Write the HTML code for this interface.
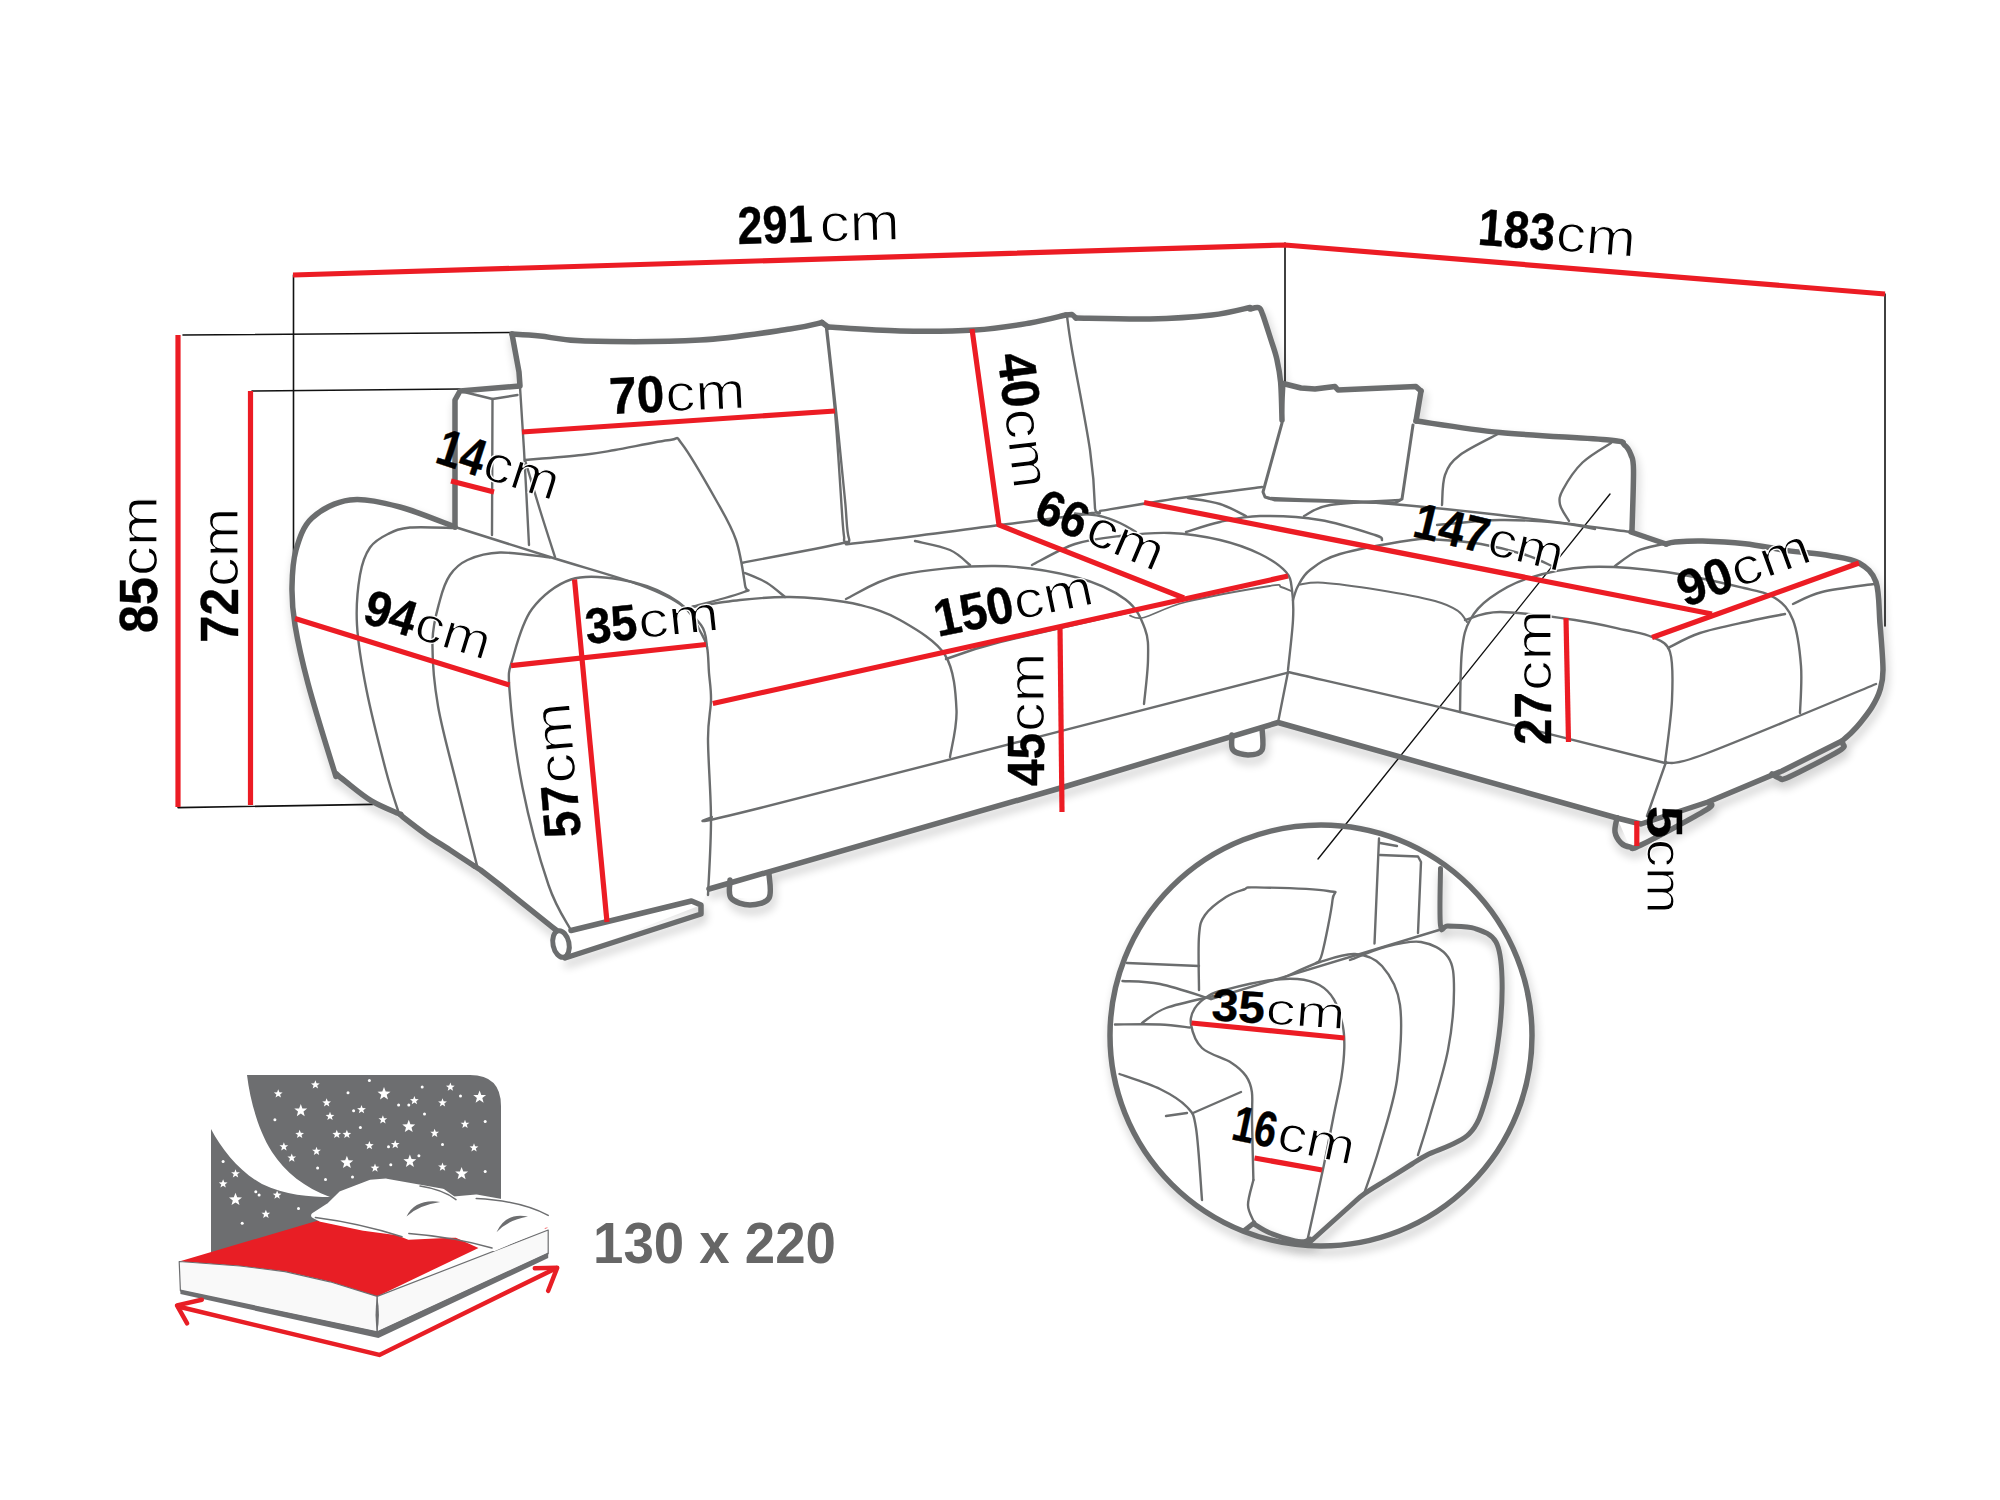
<!DOCTYPE html>
<html><head><meta charset="utf-8"><style>
html,body{margin:0;padding:0;background:#fff;width:2000px;height:1500px;overflow:hidden}
svg{display:block}
text{font-family:"Liberation Sans",sans-serif;fill:#000}
</style></head><body>
<svg width="2000" height="1500" viewBox="0 0 2000 1500" stroke-linecap="round" stroke-linejoin="round">
<defs><filter id="sh" x="-5%" y="-5%" width="110%" height="110%"><feGaussianBlur stdDeviation="5"/><feOffset dx="2" dy="6"/><feComponentTransfer><feFuncA type="linear" slope="0.22"/></feComponentTransfer></filter></defs>
<rect width="2000" height="1500" fill="#fff"/>
<g filter="url(#sh)"><path d="M556 930 L552 926.8 L520.5 901.6 L500 885 L480.6 870 L474.3 866" stroke="#000" stroke-width="6" fill="none"/><path d="M474.3 866 C470.2 863.3 458.1 855.3 450 850 C441.9 844.7 433.8 839.9 426 834.4 C418.2 828.9 407.2 820.3 403 817 C398.8 813.7 401.2 814.9 400.8 814.5" stroke="#000" stroke-width="6" fill="none"/><path d="M400.8 814.5 C395.9 812.2 380.7 806.4 371.4 800.8 C362.1 795.2 350.9 785.5 345 781 C339.1 776.5 337.9 775.5 336 773.5 C334.1 771.5 338.3 784 333.6 769 C328.9 754 314.4 707.5 308 683.5 C301.6 659.5 297.7 641.1 295 625 C292.3 608.9 291.8 599.5 292 587 C292.2 574.5 292.7 561.5 296 550 C299.3 538.5 303 526.3 312 518 C321 509.7 335.3 501.8 350 500 C364.7 498.2 382.5 502.5 400 507 C417.5 511.5 445.8 523.7 455 527" stroke="#000" stroke-width="6" fill="none"/><path d="M455 527 L455 400 L460 391 L520 386 L519 372 L512 334" stroke="#000" stroke-width="6" fill="none"/><path d="M512 334 C516.7 334.3 527.8 334.8 540 336 C552.2 337.2 558.3 340.3 585 341 C611.7 341.7 665.8 342 700 340 C734.2 338 769.7 331.9 790 329 C810.3 326.1 816.7 323.6 822 322.5" stroke="#000" stroke-width="6" fill="none"/><path d="M822 322.5 L828 327" stroke="#000" stroke-width="6" fill="none"/><path d="M828 327 C840 327.7 875.5 330.5 900 331 C924.5 331.5 953.3 331.3 975 330 C996.7 328.7 1014.8 325.5 1030 323 C1045.2 320.5 1060 316.3 1066 315" stroke="#000" stroke-width="6" fill="none"/><path d="M1066 315 L1072 314.5 L1076 318" stroke="#000" stroke-width="6" fill="none"/><path d="M1076 318 C1088.3 318.2 1127.3 319.5 1150 319 C1172.7 318.5 1195.3 316.9 1212 315 C1228.7 313.1 1243.7 308.8 1250 307.5" stroke="#000" stroke-width="6" fill="none"/><path d="M1250 309 C1251.4 308.8 1256.3 306.8 1258.4 307.6 C1260.5 308.4 1260.5 308.8 1262.5 314 C1264.5 319.2 1268.3 331.5 1270.7 339 C1273.1 346.5 1275.2 351.8 1276.8 359 C1278.4 366.2 1279.7 371.8 1280.6 382 C1281.5 392.2 1281.8 413.7 1282 420" stroke="#000" stroke-width="6" fill="none"/><path d="M1283 383.5 L1301 388 L1315 389 L1335 386.6 L1338 390 L1416 386.6 L1421 391" stroke="#000" stroke-width="6" fill="none"/><path d="M1421 391 L1416 421" stroke="#000" stroke-width="6" fill="none"/><path d="M1416 421 C1430 422.9 1467.8 429.3 1500 432.5 C1532.2 435.7 1588.3 437.9 1609 440 C1629.7 442.1 1620.7 442.5 1624.4 445 C1628.1 447.5 1629.5 450.8 1631 455 C1632.5 459.2 1633.3 457.3 1633.5 470 C1633.7 482.7 1632.2 520.8 1632 531" stroke="#000" stroke-width="6" fill="none"/><path d="M1631 532 L1666 544" stroke="#000" stroke-width="6" fill="none"/><path d="M1666 544 C1667.5 543.7 1668.9 542.5 1675 542 C1681.1 541.5 1690.8 540.7 1702.5 541 C1714.2 541.3 1730.8 542.2 1745 543.8 C1759.2 545.4 1773.3 548.6 1787.5 550.6 C1801.7 552.6 1818.1 553.6 1830 555.7 C1841.9 557.8 1851.3 558.6 1859 563 C1866.7 567.4 1872.5 571.8 1876 582 C1879.5 592.2 1878.8 609.3 1880 624 C1881.2 638.7 1883 659 1883 670 C1883 681 1881.8 683.8 1880 690 C1878.2 696.2 1875.2 701.7 1872 707 C1868.8 712.3 1864.3 717.8 1861 722 C1857.7 726.2 1855.2 728.8 1852 732 C1848.8 735.2 1843.7 739.5 1842 741" stroke="#000" stroke-width="6" fill="none"/><path d="M1842 741 L1782 771 L1708 802 L1641 824 L1617 818" stroke="#000" stroke-width="6" fill="none"/><path d="M1617 818 L1278 722.5 L1060.5 788 L709 889" stroke="#000" stroke-width="6" fill="none"/><path d="M571 930.5 L691.5 901 L701 905 L701 914 L565 958" stroke="#000" stroke-width="6" fill="none"/><path d="M730 880 C730.2 883 727.7 893.8 731 898 C734.3 902.2 743.7 905 750 905 C756.3 905 765.8 903.2 769 898 C772.2 892.8 769 878 769 874" stroke="#000" stroke-width="6" fill="none"/><path d="M1232 735 C1232.2 737.5 1230.3 746.7 1233 750 C1235.7 753.3 1243.2 755 1248 755 C1252.8 755 1259.7 754.5 1262 750 C1264.3 745.5 1262 731.7 1262 728" stroke="#000" stroke-width="6" fill="none"/><path d="M1617 818 C1616.7 820.3 1614.3 827.8 1615 832 C1615.7 836.2 1618.5 840.5 1621 843 C1623.5 845.5 1626.7 846.7 1630 847 C1633.3 847.3 1628.3 851.2 1641 845 C1653.7 838.8 1694.7 817 1706 810 C1717.3 803 1708.5 804.2 1709 803" stroke="#000" stroke-width="6" fill="none"/><path d="M1772 774 C1773.2 774.7 1776.2 777.5 1779 778 C1781.8 778.5 1779 781.5 1789 777 C1799 772.5 1830 756.5 1839 751 C1848 745.5 1842.3 745.2 1843 744" stroke="#000" stroke-width="6" fill="none"/><ellipse cx="1321" cy="1035.5" rx="211" ry="210.5" stroke="#000" stroke-width="6" fill="none"/></g><path d="M512 334 L540 336 L585 341 L700 340 L790 329 L822 322.5 L828 327 L900 331 L975 330 L1030 323 L1066 315 L1072 314.5 L1076 318 L1150 319 L1212 315 L1250 307.5 L1258.4 307.6 L1262.5 314 L1270.7 339 L1276.8 359 L1280.6 382 L1283 383.5 L1301 388 L1315 389 L1335 386.6 L1338 390 L1416 386.6 L1421 391 L1416 421 L1500 432.5 L1609 440 L1624.4 445 L1631 455 L1633.5 470 L1632 531 L1666 544 L1702.5 541 L1745 543.8 L1787.5 550.6 L1830 555.7 L1859 563 L1876 582 L1880 624 L1883 670 L1880 690 L1872 707 L1861 722 L1842 741 L1782 771 L1708 802 L1641 824 L1630 847 L1617 818 L1278 722.5 L1262 728 L1262 750 L1232 750 L1232 735 L1060.5 788 L769 874 L769 898 L730 898 L730 880 L709 889 L701 905 L565 958 L552 926.8 L520.5 901.6 L474.3 866 L426 834.4 L400.8 814.5 L371.4 800.8 L345 781 L333.6 769 L308 683.5 L295 625 L292 587 L296 550 L312 518 L350 500 L400 507 L455 527 L455 400 L460 391 L520 386 L519 372 Z" fill="#fff"/><ellipse cx="1321" cy="1035.5" rx="211" ry="210.5" fill="#fff"/><g filter="url(#sh)"><path d="M1440.5 868.5 C1440.5 878 1439.2 915.9 1440.5 925.5 C1441.8 935.1 1442.2 925.5 1448 926 C1453.8 926.5 1467 925.8 1475 928.5 C1483 931.2 1491.5 933.8 1496 942 C1500.5 950.2 1501.5 962.5 1502 978 C1502.5 993.5 1501.5 1015.5 1499 1035 C1496.5 1054.5 1492 1078.5 1487 1095 C1482 1111.5 1479 1124 1469 1134 C1459 1144 1436.5 1150 1427 1155 C1417.5 1160 1418.5 1160 1412 1164 C1405.5 1168 1396 1174 1388 1179 C1380 1184 1370.3 1189.5 1364 1194 C1357.7 1198.5 1359 1198 1350 1206 C1341 1214 1316.7 1236 1310 1242" stroke="#000" stroke-width="6" fill="none"/><path d="M1254 1224 C1256.7 1225.5 1263.2 1230.2 1270 1233 C1276.8 1235.8 1289.2 1239.6 1295 1241 C1300.8 1242.4 1302.5 1241.8 1305 1241.5 C1307.5 1241.2 1309.2 1239.4 1310 1239" stroke="#000" stroke-width="6" fill="none"/><path d="M1254 1223 L1245 1230" stroke="#000" stroke-width="6" fill="none"/></g>
<path d="M293.5 275 L293.5 556" stroke="#111" stroke-width="1.6" fill="none" />
<path d="M183 335 L512 332.5" stroke="#111" stroke-width="1.6" fill="none" />
<path d="M252 391 L460 389" stroke="#111" stroke-width="1.6" fill="none" />
<path d="M178 807.6 L373 804.4" stroke="#111" stroke-width="1.6" fill="none" />
<path d="M1285 243 L1285 383" stroke="#111" stroke-width="1.6" fill="none" />
<path d="M1885 294 L1885 626" stroke="#111" stroke-width="1.6" fill="none" />
<path d="M1610 494 L1318 859" stroke="#111" stroke-width="1.4" fill="none" />
<path d="M556 930 L552 926.8 L520.5 901.6 L500 885 L480.6 870 L474.3 866" stroke="#6b6d6e" stroke-width="5.5" fill="none" />
<path d="M474.3 866 C470.2 863.3 458.1 855.3 450 850 C441.9 844.7 433.8 839.9 426 834.4 C418.2 828.9 407.2 820.3 403 817 C398.8 813.7 401.2 814.9 400.8 814.5" stroke="#6b6d6e" stroke-width="5.5" fill="none" />
<path d="M400.8 814.5 C395.9 812.2 380.7 806.4 371.4 800.8 C362.1 795.2 350.9 785.5 345 781 C339.1 776.5 337.9 775.5 336 773.5 C334.1 771.5 338.3 784 333.6 769 C328.9 754 314.4 707.5 308 683.5 C301.6 659.5 297.7 641.1 295 625 C292.3 608.9 291.8 599.5 292 587 C292.2 574.5 292.7 561.5 296 550 C299.3 538.5 303 526.3 312 518 C321 509.7 335.3 501.8 350 500 C364.7 498.2 382.5 502.5 400 507 C417.5 511.5 445.8 523.7 455 527" stroke="#6b6d6e" stroke-width="5.5" fill="none" />
<path d="M455 527 L455 400 L460 391 L520 386 L519 372 L512 334" stroke="#6b6d6e" stroke-width="5.5" fill="none" />
<path d="M512 334 C516.7 334.3 527.8 334.8 540 336 C552.2 337.2 558.3 340.3 585 341 C611.7 341.7 665.8 342 700 340 C734.2 338 769.7 331.9 790 329 C810.3 326.1 816.7 323.6 822 322.5" stroke="#6b6d6e" stroke-width="5.5" fill="none" />
<path d="M822 322.5 L828 327" stroke="#6b6d6e" stroke-width="5.5" fill="none" />
<path d="M828 327 C840 327.7 875.5 330.5 900 331 C924.5 331.5 953.3 331.3 975 330 C996.7 328.7 1014.8 325.5 1030 323 C1045.2 320.5 1060 316.3 1066 315" stroke="#6b6d6e" stroke-width="5.5" fill="none" />
<path d="M1066 315 L1072 314.5 L1076 318" stroke="#6b6d6e" stroke-width="5.5" fill="none" />
<path d="M1076 318 C1088.3 318.2 1127.3 319.5 1150 319 C1172.7 318.5 1195.3 316.9 1212 315 C1228.7 313.1 1243.7 308.8 1250 307.5" stroke="#6b6d6e" stroke-width="5.5" fill="none" />
<path d="M1250 309 C1251.4 308.8 1256.3 306.8 1258.4 307.6 C1260.5 308.4 1260.5 308.8 1262.5 314 C1264.5 319.2 1268.3 331.5 1270.7 339 C1273.1 346.5 1275.2 351.8 1276.8 359 C1278.4 366.2 1279.7 371.8 1280.6 382 C1281.5 392.2 1281.8 413.7 1282 420" stroke="#6b6d6e" stroke-width="5.5" fill="none" />
<path d="M1283 383.5 L1301 388 L1315 389 L1335 386.6 L1338 390 L1416 386.6 L1421 391" stroke="#6b6d6e" stroke-width="5.5" fill="none" />
<path d="M1421 391 L1416 421" stroke="#6b6d6e" stroke-width="5.5" fill="none" />
<path d="M1416 421 C1430 422.9 1467.8 429.3 1500 432.5 C1532.2 435.7 1588.3 437.9 1609 440 C1629.7 442.1 1620.7 442.5 1624.4 445 C1628.1 447.5 1629.5 450.8 1631 455 C1632.5 459.2 1633.3 457.3 1633.5 470 C1633.7 482.7 1632.2 520.8 1632 531" stroke="#6b6d6e" stroke-width="5.5" fill="none" />
<path d="M1631 532 L1666 544" stroke="#6b6d6e" stroke-width="5.5" fill="none" />
<path d="M1666 544 C1667.5 543.7 1668.9 542.5 1675 542 C1681.1 541.5 1690.8 540.7 1702.5 541 C1714.2 541.3 1730.8 542.2 1745 543.8 C1759.2 545.4 1773.3 548.6 1787.5 550.6 C1801.7 552.6 1818.1 553.6 1830 555.7 C1841.9 557.8 1851.3 558.6 1859 563 C1866.7 567.4 1872.5 571.8 1876 582 C1879.5 592.2 1878.8 609.3 1880 624 C1881.2 638.7 1883 659 1883 670 C1883 681 1881.8 683.8 1880 690 C1878.2 696.2 1875.2 701.7 1872 707 C1868.8 712.3 1864.3 717.8 1861 722 C1857.7 726.2 1855.2 728.8 1852 732 C1848.8 735.2 1843.7 739.5 1842 741" stroke="#6b6d6e" stroke-width="5.5" fill="none" />
<path d="M1842 741 L1782 771 L1708 802 L1641 824 L1617 818" stroke="#6b6d6e" stroke-width="5.5" fill="none" />
<path d="M1617 818 L1278 722.5 L1060.5 788 L709 889" stroke="#6b6d6e" stroke-width="5.5" fill="none" />
<path d="M571 930.5 L691.5 901 L701 905 L701 914 L565 958" stroke="#6b6d6e" stroke-width="5.5" fill="none" />
<ellipse cx="561" cy="944" rx="8" ry="13.5" transform="rotate(-12 561 944)" stroke="#6b6d6e" stroke-width="5" fill="#fff"/>
<path d="M730 880 C730.2 883 727.7 893.8 731 898 C734.3 902.2 743.7 905 750 905 C756.3 905 765.8 903.2 769 898 C772.2 892.8 769 878 769 874" stroke="#6b6d6e" stroke-width="5.5" fill="none" />
<path d="M1232 735 C1232.2 737.5 1230.3 746.7 1233 750 C1235.7 753.3 1243.2 755 1248 755 C1252.8 755 1259.7 754.5 1262 750 C1264.3 745.5 1262 731.7 1262 728" stroke="#6b6d6e" stroke-width="5.5" fill="none" />
<path d="M1617 818 C1616.7 820.3 1614.3 827.8 1615 832 C1615.7 836.2 1618.5 840.5 1621 843 C1623.5 845.5 1626.7 846.7 1630 847 C1633.3 847.3 1628.3 851.2 1641 845 C1653.7 838.8 1694.7 817 1706 810 C1717.3 803 1708.5 804.2 1709 803" stroke="#6b6d6e" stroke-width="5.5" fill="none" />
<path d="M1772 774 C1773.2 774.7 1776.2 777.5 1779 778 C1781.8 778.5 1779 781.5 1789 777 C1799 772.5 1830 756.5 1839 751 C1848 745.5 1842.3 745.2 1843 744" stroke="#6b6d6e" stroke-width="5.5" fill="none" />
<ellipse cx="1321" cy="1035.5" rx="211" ry="210.5" stroke="#6b6d6e" stroke-width="5.5" fill="none"/>
<path d="M460 391 L492.5 399 L517.5 395" stroke="#6b6d6e" stroke-width="2.4" fill="none" />
<path d="M492.5 399 L492 535" stroke="#6b6d6e" stroke-width="2.4" fill="none" />
<path d="M520 387 C520.7 397.5 522.5 423.7 524 450 C525.5 476.3 528.2 529.2 529 545" stroke="#6b6d6e" stroke-width="2.4" fill="none" />
<path d="M525 460 C534.5 459.2 567 456.7 582 455 C597 453.3 600.3 452.5 615 450 C629.7 447.5 658.8 441 670 440 C681.2 439 674.3 434 682 444 C689.7 454 707 484 716 500 C725 516 731.2 525.8 736 540 C740.8 554.2 743.7 576.3 745 585 C746.3 593.7 752.8 588.3 744 592 C735.2 595.7 700.7 604.5 692 607" stroke="#6b6d6e" stroke-width="2.4" fill="none" />
<path d="M525 460 C527.5 468.3 535 493.8 540 510 C545 526.2 552.5 549.2 555 557" stroke="#6b6d6e" stroke-width="2.4" fill="none" />
<path d="M455 527 C470.8 532 519.2 547.3 550 557 C580.8 566.7 617.7 576.7 640 585 C662.3 593.3 674 599.3 684 607 C694 614.7 696.2 624.3 700 631 C703.8 637.7 705.5 640 707 647 C708.5 654 708.3 664.2 709 673 C709.7 681.8 711.2 689 711 700 C710.8 711 708 719 708 739 C708 759 711 794 711 820 C711 846 708.5 882.5 708 895" stroke="#6b6d6e" stroke-width="2.4" fill="none" />
<path d="M455 528 C447.5 527.9 421.2 526.5 410 527.5 C398.8 528.5 394.7 530.7 388 534 C381.3 537.3 374.7 540.7 370 547.5 C365.3 554.3 362.2 562.1 360 575 C357.8 587.9 355.9 605.8 357 625 C358.1 644.2 361.7 665.7 366.5 690 C371.3 714.3 380.6 750.4 386 771 C391.4 791.6 396.8 806.4 399 813.5" stroke="#6b6d6e" stroke-width="2.4" fill="none" />
<path d="M550 557.5 C541.7 556.7 513.8 552.1 500 552.5 C486.2 552.9 475.8 556.2 467.5 560 C459.2 563.8 454.6 568.3 450 575 C445.4 581.7 442.9 589 440 600 C437.1 611 432.8 623.3 432.5 641 C432.2 658.7 433.8 681.6 438 706 C442.2 730.4 451 760.9 457.5 787.5 C464 814.1 473.8 852.5 477 865.5" stroke="#6b6d6e" stroke-width="2.4" fill="none" />
<path d="M571 930.5 C567.2 922.9 556.6 908.8 548.5 885 C540.4 861.2 529 820 522.5 787.5 C516 755 511.1 711.7 509.5 690 C507.9 668.3 509.2 671 513 657.5 C516.8 644 522.3 622 532 609 C541.7 596 556.3 584.4 571 579.5 C585.7 574.6 603.7 576.8 620 579.5 C636.3 582.2 655.5 588.4 669 596 C682.5 603.6 694.7 616.5 701 625 C707.3 633.5 706 643.3 707 647" stroke="#6b6d6e" stroke-width="2.4" fill="none" />
<path d="M826 327 C827.5 341.2 832.2 379.8 835 412 C837.8 444.2 841 498.7 842.5 520 C844 541.3 844.6 536 844 540 C843.4 544 855.6 540.2 838.7 544 C821.8 547.8 758.7 559.6 742.7 562.7" stroke="#6b6d6e" stroke-width="2.4" fill="none" />
<path d="M827 328 C828.7 343.3 834 391.3 837 420 C840 448.7 843 480.2 845 500 C847 519.8 846.5 531.6 849 538.7 C851.5 545.8 834.8 545 860 542.7 C885.2 540.4 961.3 530 1000 525 C1038.7 520 1076.2 515.8 1092 513 C1107.8 510.2 1095.3 518.5 1095 508 C1094.7 497.5 1093.8 476.3 1090 450 C1086.2 423.7 1075.8 372.3 1072 350 C1068.2 327.7 1067.8 321.7 1067 316" stroke="#6b6d6e" stroke-width="2.4" fill="none" />
<path d="M1100 511 C1113.3 508.8 1153 502 1180 498 C1207 494 1248.3 488.8 1262 487" stroke="#6b6d6e" stroke-width="2.4" fill="none" />
<path d="M692 607 C700 605.8 724.2 601.7 740 600 C755.8 598.3 773.4 597.2 786.7 597 C800 596.8 807.8 597.4 820 598.7 C832.2 600 846.7 601.5 860 605 C873.3 608.5 885.8 611.7 900 620 C914.2 628.3 935.6 640 945 655 C954.4 670 955.7 693 956.5 710 C957.3 727 951.1 749.2 950 757" stroke="#6b6d6e" stroke-width="2.4" fill="none" />
<path d="M745 573 C748.6 574.6 760 578.7 766.7 582.7 C773.4 586.7 782 594.6 785 597" stroke="#6b6d6e" stroke-width="2.4" fill="none" />
<path d="M846 599 C855 595 875.2 580.5 900 575 C924.8 569.5 965.8 565.7 995 566 C1024.2 566.3 1053.2 571.4 1075 577 C1096.8 582.6 1113.8 590.8 1125.5 599.5 C1137.2 608.2 1141.2 618.9 1145 629 C1148.8 639.1 1148.2 647.5 1148 660 C1147.8 672.5 1144.7 696.7 1144 704" stroke="#6b6d6e" stroke-width="2.4" fill="none" />
<path d="M915 541 C920.8 542.5 940.8 546 950 550 C959.2 554 966.7 562.5 970 565" stroke="#6b6d6e" stroke-width="2.4" fill="none" />
<path d="M1032 565 C1039.2 561.5 1060.3 548.8 1075 544 C1089.7 539.2 1104.2 537.8 1120 536 C1135.8 534.2 1153.3 532.3 1170 533 C1186.7 533.7 1205 536.5 1220 540 C1235 543.5 1249 548.7 1260 554 C1271 559.3 1280.7 566 1286 572 C1291.3 578 1290.8 582 1292 590 C1293.2 598 1293.7 606.7 1293 620 C1292.3 633.3 1288.8 661.7 1288 670" stroke="#6b6d6e" stroke-width="2.4" fill="none" />
<path d="M1188 498 C1193.3 499 1210.3 501 1220 504 C1229.7 507 1241.7 514 1246 516" stroke="#6b6d6e" stroke-width="2.4" fill="none" />
<path d="M1075 513.5 C1079.2 513.9 1092.5 514.4 1100 516 C1107.5 517.6 1114 520.3 1120 523 C1126 525.7 1133.3 530.5 1136 532" stroke="#6b6d6e" stroke-width="2.4" fill="none" />
<path d="M946 659 L975 649 L1000 642 L1130 612" stroke="#6b6d6e" stroke-width="2.4" fill="none" />
<path d="M1130 615.7 C1132.3 616 1134.7 619.8 1144 617.5 C1153.3 615.2 1165.1 607.2 1186 602 C1206.9 596.8 1253.8 588.5 1269.6 586 C1285.4 583.5 1277.5 586.2 1281 587 C1284.5 587.8 1289 590.2 1290.6 590.8" stroke="#6b6d6e" stroke-width="1.8" fill="none" />
<path d="M711 817 C719.2 815.5 663.8 832.1 760 808 C856.2 783.9 1200 695.2 1288 672.6" stroke="#6b6d6e" stroke-width="2.4" fill="none" />
<path d="M1288 672 L1278 722.5" stroke="#6b6d6e" stroke-width="2.4" fill="none" />
<path d="M1288 672 C1316.7 678.7 1397.2 696.8 1460 712 C1522.8 727.2 1630.8 754.5 1665 763" stroke="#6b6d6e" stroke-width="2.5" fill="none" />
<path d="M1284 386 L1282 423 L1263 492 L1265 497 L1275 500 L1395 503 L1402 499 L1413 425" stroke="#6b6d6e" stroke-width="3" fill="none" />
<path d="M1268 498 C1276.7 498.3 1301.3 499.2 1320 500 C1338.7 500.8 1350 500.5 1380 503 C1410 505.5 1458.2 510.2 1500 515 C1541.8 519.8 1609.2 529.2 1631 532" stroke="#6b6d6e" stroke-width="2.4" fill="none" />
<path d="M1500 433 C1493.3 436.7 1469.2 448 1460 455 C1450.8 462 1448 466.7 1445 475 C1442 483.3 1442.5 500 1442 505" stroke="#6b6d6e" stroke-width="2.4" fill="none" />
<path d="M1611 443 C1606.2 446.2 1590.5 454.8 1582.5 462.5 C1574.5 470.2 1566.8 482.5 1563 489.5 C1559.2 496.5 1559 499.2 1560 504.5 C1561 509.8 1567.5 518.2 1569 521" stroke="#6b6d6e" stroke-width="2.4" fill="none" />
<path d="M1186 532 C1191.7 530.3 1207.7 524.7 1220 522 C1232.3 519.3 1243.3 516.3 1260 516 C1276.7 515.7 1300.8 516.8 1320 520 C1339.2 523.2 1364.7 531.7 1375 535 C1385.3 538.3 1380.8 539.2 1382 540" stroke="#6b6d6e" stroke-width="2.4" fill="none" />
<path d="M1304 516 C1308.3 514.2 1314 507.7 1330 505 C1346 502.3 1388.3 500.8 1400 500" stroke="#6b6d6e" stroke-width="2.4" fill="none" />
<path d="M1293 600 C1293.8 597.7 1295.2 591 1298 586 C1300.8 581 1303 575.3 1310 570 C1317 564.7 1323 559 1340 554 C1357 549 1396 542.4 1412 540 C1428 537.6 1424.5 538.8 1436 539.5 C1447.5 540.2 1466 541.4 1481 544 C1496 546.6 1514 551.2 1526 555 C1538 558.8 1548.5 564.6 1553 566.5" stroke="#6b6d6e" stroke-width="2.4" fill="none" />
<path d="M1299 584.5 C1303 584.2 1309.7 581.8 1323 582.7 C1336.3 583.6 1360.3 587 1379 590 C1397.7 593 1421.8 597.5 1435 601 C1448.2 604.5 1452.7 607.5 1458 611 C1463.3 614.5 1465.5 620.2 1467 622" stroke="#6b6d6e" stroke-width="2" fill="none" />
<path d="M1460 712 C1460.3 701.7 1460.3 665.3 1462 650 C1463.7 634.7 1465.3 628.7 1470 620 C1474.7 611.3 1480.5 604.9 1490 598 C1499.5 591.1 1510.7 583.8 1527 578.6 C1543.3 573.4 1564.8 568.1 1588 567 C1611.2 565.9 1640 568.5 1666 572 C1692 575.5 1725.8 583.7 1744 588 C1762.2 592.3 1766.8 592.7 1775 598 C1783.2 603.3 1788.7 608.7 1793 620 C1797.3 631.3 1799.8 650.5 1801 666 C1802.2 681.5 1800.2 705.2 1800 713" stroke="#6b6d6e" stroke-width="2.4" fill="none" />
<path d="M1437 525 C1447.5 524.2 1479.5 520.3 1500 520 C1520.5 519.7 1544.2 521.5 1560 523 C1575.8 524.5 1589.2 528 1595 529" stroke="#6b6d6e" stroke-width="2.4" fill="none" />
<path d="M1615 566 C1618.7 563.5 1629 554.7 1637 551 C1645 547.3 1658.7 545.2 1663 544" stroke="#6b6d6e" stroke-width="2.4" fill="none" />
<path d="M1465 620 C1470.8 618.7 1481.7 612 1500 612 C1518.3 612 1554.2 617 1575 620 C1595.8 623 1612.2 627.2 1625 630 C1637.8 632.8 1644.5 633.3 1652 637 C1659.5 640.7 1666.7 641.5 1670 652 C1673.3 662.5 1672.8 681.5 1672 700 C1671.2 718.5 1666.2 752.5 1665 763" stroke="#6b6d6e" stroke-width="2.4" fill="none" />
<path d="M1666 762 L1647 816" stroke="#6b6d6e" stroke-width="2.4" fill="none" />
<path d="M1665 763 C1671.7 761.5 1669.8 767.2 1705 754 C1740.2 740.8 1847.5 695.7 1876 684" stroke="#6b6d6e" stroke-width="2.4" fill="none" />
<path d="M1668 648 C1673.3 645.5 1686.3 637.5 1700 633 C1713.7 628.5 1735.8 624.2 1750 621 C1764.2 617.8 1779.2 615.2 1785 614" stroke="#6b6d6e" stroke-width="2.4" fill="none" />
<path d="M1793 604 C1797.8 602 1808.5 595.3 1822 592 C1835.5 588.7 1865.3 585.3 1874 584" stroke="#6b6d6e" stroke-width="2.4" fill="none" />
<path d="M1379 838.5 L1374.5 943.5" stroke="#6b6d6e" stroke-width="2.4" fill="none" />
<path d="M1380 843 L1397 846" stroke="#6b6d6e" stroke-width="2.4" fill="none" />
<path d="M1380 855 L1418 856.5 L1421 862 L1418 933" stroke="#6b6d6e" stroke-width="2.4" fill="none" />
<path d="M1440.5 868.5 C1440.5 878 1439.2 915.9 1440.5 925.5 C1441.8 935.1 1442.2 925.5 1448 926 C1453.8 926.5 1467 925.8 1475 928.5 C1483 931.2 1491.5 933.8 1496 942 C1500.5 950.2 1501.5 962.5 1502 978 C1502.5 993.5 1501.5 1015.5 1499 1035 C1496.5 1054.5 1492 1078.5 1487 1095 C1482 1111.5 1479 1124 1469 1134 C1459 1144 1436.5 1150 1427 1155 C1417.5 1160 1418.5 1160 1412 1164 C1405.5 1168 1396 1174 1388 1179 C1380 1184 1370.3 1189.5 1364 1194 C1357.7 1198.5 1359 1198 1350 1206 C1341 1214 1316.7 1236 1310 1242" stroke="#6b6d6e" stroke-width="5" fill="none" />
<path d="M1211 999 L1439 930" stroke="#6b6d6e" stroke-width="2.4" fill="none" />
<path d="M1199 990 C1199 981 1198 948.5 1199 936 C1200 923.5 1200.5 921.5 1205 915 C1209.5 908.5 1219.5 901.2 1226 897 C1232.5 892.8 1239 891.1 1244 889.5 C1249 887.9 1242 887.1 1256 887.4 C1270 887.6 1315.2 888.9 1328 891 C1340.8 893.1 1333.5 889.5 1332.5 900 C1331.5 910.5 1324.8 943.5 1322 954 C1319.2 964.5 1317 961.5 1316 963" stroke="#6b6d6e" stroke-width="2.4" fill="none" />
<path d="M1253.4 1180 C1253.2 1170 1252.2 1134.7 1252 1120 C1251.8 1105.3 1252.9 1099.3 1251.9 1092 C1250.9 1084.7 1249.4 1080.9 1246 1076 C1242.6 1071.1 1238.6 1067.4 1231.3 1062.7 C1224 1058 1208.7 1054.4 1202 1048 C1195.3 1041.6 1192.2 1031.1 1191 1024.5 C1189.8 1017.9 1191.7 1013.3 1194.7 1008.4 C1197.8 1003.5 1203.9 998.4 1209.3 995.2 C1214.7 992 1217.2 991.8 1227 989.3 C1236.8 986.8 1256.3 982.2 1268 980.5 C1279.7 978.8 1288.8 978.2 1297.4 979 C1306 979.8 1313.3 981.6 1319.4 985 C1325.5 988.4 1330.1 992.8 1334 999.6 C1337.9 1006.4 1341.1 1017.9 1342.8 1026 C1344.5 1034.1 1344.5 1039.4 1344.3 1048 C1344.1 1056.6 1343.1 1066.4 1341.4 1077.4 C1339.7 1088.4 1336.9 1099.3 1334 1114 C1331.1 1128.7 1328.3 1144.1 1323.8 1165.4 C1319.3 1186.7 1309.8 1229.2 1307 1242" stroke="#6b6d6e" stroke-width="2.4" fill="none" />
<path d="M1285 977 C1290.8 974.5 1308.3 965.8 1320 962 C1331.7 958.2 1344.7 953.3 1355 954 C1365.3 954.7 1374.5 957.5 1382 966 C1389.5 974.5 1397.5 986 1400 1005 C1402.5 1024 1400.5 1056 1397 1080 C1393.5 1104 1384.5 1130 1379 1149 C1373.5 1168 1366.5 1186.5 1364 1194" stroke="#6b6d6e" stroke-width="2.4" fill="none" />
<path d="M1350 960 C1355.8 957.8 1373.2 950 1385 947 C1396.8 944 1410.5 940.3 1421 942 C1431.5 943.7 1442.5 949 1448 957 C1453.5 965 1454 974.5 1454 990 C1454 1005.5 1452 1029 1448 1050 C1444 1071 1435 1098.5 1430 1116 C1425 1133.5 1420 1148.5 1418 1155" stroke="#6b6d6e" stroke-width="2.4" fill="none" />
<path d="M1253.4 1180 C1252.5 1184.2 1247.9 1198 1248 1205 C1248.1 1212 1253 1219.2 1254 1222" stroke="#6b6d6e" stroke-width="2.4" fill="none" />
<path d="M1254 1224 C1256.7 1225.5 1263.2 1230.2 1270 1233 C1276.8 1235.8 1289.2 1239.6 1295 1241 C1300.8 1242.4 1302.5 1241.8 1305 1241.5 C1307.5 1241.2 1309.2 1239.4 1310 1239" stroke="#6b6d6e" stroke-width="5" fill="none" />
<path d="M1254 1223 L1245 1230" stroke="#6b6d6e" stroke-width="5" fill="none" />
<path d="M1127 963 L1199 966" stroke="#6b6d6e" stroke-width="2.4" fill="none" />
<path d="M1122.5 981 C1128.8 981.5 1145.2 981 1160 984 C1174.8 987 1202.5 996.5 1211 999" stroke="#6b6d6e" stroke-width="2.4" fill="none" />
<path d="M1142 1023 C1146 1020.5 1154 1012.5 1166 1008 C1178 1003.5 1206 998 1214 996" stroke="#6b6d6e" stroke-width="2.4" fill="none" />
<path d="M1115 1024.5 C1122.5 1024.5 1147.5 1024 1160 1024.5 C1172.5 1025 1185 1027 1190 1027.5" stroke="#6b6d6e" stroke-width="2.4" fill="none" />
<path d="M1119.5 1074 C1126.2 1076.5 1148.8 1083.5 1160 1089 C1171.2 1094.5 1181 1100.5 1187 1107 C1193 1113.5 1193.5 1112.5 1196 1128 C1198.5 1143.5 1201 1188 1202 1200" stroke="#6b6d6e" stroke-width="2.4" fill="none" />
<path d="M1166 1116 L1187 1113" stroke="#6b6d6e" stroke-width="2.4" fill="none" />
<path d="M1193 1113 L1241 1092" stroke="#6b6d6e" stroke-width="2.4" fill="none" />
<path d="M293 275 L1285 245 L1885 294" stroke="#ec1c24" stroke-width="5.2" fill="none" stroke-linecap="butt" stroke-linejoin="miter"/>
<path d="M178 335 L178 807" stroke="#ec1c24" stroke-width="5.2" fill="none" stroke-linecap="butt" stroke-linejoin="miter"/>
<path d="M250.5 391 L250.5 805" stroke="#ec1c24" stroke-width="5.2" fill="none" stroke-linecap="butt" stroke-linejoin="miter"/>
<path d="M522 432 L835 411" stroke="#ec1c24" stroke-width="5.2" fill="none" stroke-linecap="butt" stroke-linejoin="miter"/>
<path d="M451 481 L494 492" stroke="#ec1c24" stroke-width="5.2" fill="none" stroke-linecap="butt" stroke-linejoin="miter"/>
<path d="M972 329 L999 525 L1184 598" stroke="#ec1c24" stroke-width="5.2" fill="none" stroke-linecap="butt" stroke-linejoin="miter"/>
<path d="M295 618.5 L509.5 685" stroke="#ec1c24" stroke-width="5.2" fill="none" stroke-linecap="butt" stroke-linejoin="miter"/>
<path d="M511 665.6 L706 644.5" stroke="#ec1c24" stroke-width="5.2" fill="none" stroke-linecap="butt" stroke-linejoin="miter"/>
<path d="M574.5 579.5 L607 922" stroke="#ec1c24" stroke-width="5.2" fill="none" stroke-linecap="butt" stroke-linejoin="miter"/>
<path d="M712.8 703.5 L1288 576" stroke="#ec1c24" stroke-width="5.2" fill="none" stroke-linecap="butt" stroke-linejoin="miter"/>
<path d="M1060 627 L1062 812" stroke="#ec1c24" stroke-width="5.2" fill="none" stroke-linecap="butt" stroke-linejoin="miter"/>
<path d="M1144 502.5 L1712 614" stroke="#ec1c24" stroke-width="5.2" fill="none" stroke-linecap="butt" stroke-linejoin="miter"/>
<path d="M1652 637.5 L1859 563" stroke="#ec1c24" stroke-width="5.2" fill="none" stroke-linecap="butt" stroke-linejoin="miter"/>
<path d="M1566 618 L1568.5 742" stroke="#ec1c24" stroke-width="5.2" fill="none" stroke-linecap="butt" stroke-linejoin="miter"/>
<path d="M1636.8 821 L1636.8 846" stroke="#ec1c24" stroke-width="5.2" fill="none" stroke-linecap="butt" stroke-linejoin="miter"/>
<path d="M1191.5 1023 L1344.5 1038" stroke="#ec1c24" stroke-width="5.2" fill="none" stroke-linecap="butt" stroke-linejoin="miter"/>
<path d="M1254.5 1158 L1322 1170" stroke="#ec1c24" stroke-width="5.2" fill="none" stroke-linecap="butt" stroke-linejoin="miter"/>
<path d="M247 1075 L470 1075 Q501 1075 501 1106 L501 1245 L211 1252 L211 1129 C222 1150 240 1172 262 1184 C285 1195 310 1197 330 1197 C305 1188 285 1172 272 1152 C258 1130 250 1100 247 1075 Z" fill="#6d6e70"/>
<polygon points="300.8,1104 302.4,1108.4 307.2,1108.6 303.5,1111.6 304.7,1116.3 300.8,1113.6 296.8,1116.3 298,1111.6 294.3,1108.6 299.1,1108.4" fill="#fff"/>
<polygon points="384,1087.1 385.7,1091.6 390.5,1091.8 386.7,1094.8 388,1099.4 384,1096.7 380,1099.4 381.3,1094.8 377.5,1091.8 382.3,1091.6" fill="#fff"/>
<polygon points="479.6,1090.5 481.3,1094.9 486.1,1095.1 482.3,1098.1 483.6,1102.8 479.6,1100.1 475.6,1102.8 476.9,1098.1 473.2,1095.1 477.9,1094.9" fill="#fff"/>
<polygon points="408.8,1119.7 410.4,1124.2 415.2,1124.4 411.5,1127.4 412.7,1132 408.8,1129.4 404.8,1132 406,1127.4 402.3,1124.4 407.1,1124.2" fill="#fff"/>
<polygon points="346.9,1155.7 348.6,1160.2 353.3,1160.4 349.6,1163.4 350.9,1168 346.9,1165.4 342.9,1168 344.2,1163.4 340.4,1160.4 345.2,1160.2" fill="#fff"/>
<polygon points="409.9,1154.6 411.6,1159.1 416.3,1159.3 412.6,1162.3 413.9,1166.9 409.9,1164.2 405.9,1166.9 407.2,1162.3 403.4,1159.3 408.2,1159.1" fill="#fff"/>
<polygon points="461.6,1167 463.3,1171.4 468.1,1171.6 464.3,1174.6 465.6,1179.3 461.6,1176.6 457.6,1179.3 458.9,1174.6 455.2,1171.6 459.9,1171.4" fill="#fff"/>
<polygon points="235.5,1192.8 237.2,1197.3 242,1197.5 238.2,1200.5 239.5,1205.1 235.5,1202.5 231.5,1205.1 232.8,1200.5 229,1197.5 233.8,1197.3" fill="#fff"/>
<polygon points="315.4,1080.3 316.5,1083.3 319.7,1083.5 317.2,1085.5 318.1,1088.6 315.4,1086.8 312.7,1088.6 313.5,1085.5 311,1083.5 314.2,1083.3" fill="#fff"/>
<polygon points="278.2,1089.3 279.4,1092.3 282.6,1092.5 280.1,1094.5 281,1097.6 278.2,1095.8 275.5,1097.6 276.4,1094.5 273.9,1092.5 277.1,1092.3" fill="#fff"/>
<polygon points="450.4,1082.5 451.5,1085.6 454.7,1085.7 452.2,1087.7 453.1,1090.8 450.4,1089.1 447.7,1090.8 448.5,1087.7 446,1085.7 449.2,1085.6" fill="#fff"/>
<polygon points="326.6,1098.3 327.8,1101.3 331,1101.5 328.5,1103.5 329.3,1106.6 326.6,1104.8 323.9,1106.6 324.8,1103.5 322.3,1101.5 325.5,1101.3" fill="#fff"/>
<polygon points="414.4,1096 415.5,1099.1 418.7,1099.2 416.2,1101.2 417.1,1104.3 414.4,1102.6 411.7,1104.3 412.5,1101.2 410,1099.2 413.2,1099.1" fill="#fff"/>
<polygon points="442.5,1098.3 443.6,1101.3 446.9,1101.5 444.3,1103.5 445.2,1106.6 442.5,1104.8 439.8,1106.6 440.7,1103.5 438.1,1101.5 441.4,1101.3" fill="#fff"/>
<polygon points="330,1111.8 331.1,1114.8 334.4,1115 331.8,1117 332.7,1120.1 330,1118.3 327.3,1120.1 328.2,1117 325.6,1115 328.9,1114.8" fill="#fff"/>
<polygon points="361.5,1105 362.6,1108.1 365.9,1108.2 363.3,1110.2 364.2,1113.3 361.5,1111.6 358.8,1113.3 359.7,1110.2 357.1,1108.2 360.4,1108.1" fill="#fff"/>
<polygon points="382.9,1115.2 384,1118.2 387.2,1118.3 384.7,1120.3 385.6,1123.5 382.9,1121.7 380.2,1123.5 381,1120.3 378.5,1118.3 381.7,1118.2" fill="#fff"/>
<polygon points="465,1119.7 466.1,1122.7 469.4,1122.8 466.8,1124.8 467.7,1128 465,1126.2 462.3,1128 463.2,1124.8 460.6,1122.8 463.9,1122.7" fill="#fff"/>
<polygon points="299.6,1129.8 300.8,1132.8 304,1133 301.5,1135 302.3,1138.1 299.6,1136.3 296.9,1138.1 297.8,1135 295.3,1133 298.5,1132.8" fill="#fff"/>
<polygon points="336.8,1129.8 337.9,1132.8 341.1,1133 338.6,1135 339.5,1138.1 336.8,1136.3 334,1138.1 334.9,1135 332.4,1133 335.6,1132.8" fill="#fff"/>
<polygon points="346.9,1129.8 348,1132.8 351.2,1133 348.7,1135 349.6,1138.1 346.9,1136.3 344.2,1138.1 345,1135 342.5,1133 345.7,1132.8" fill="#fff"/>
<polygon points="434.6,1128.7 435.8,1131.7 439,1131.8 436.5,1133.8 437.3,1137 434.6,1135.2 431.9,1137 432.8,1133.8 430.3,1131.8 433.5,1131.7" fill="#fff"/>
<polygon points="283.9,1142.2 285,1145.2 288.2,1145.3 285.7,1147.3 286.6,1150.5 283.9,1148.7 281.2,1150.5 282,1147.3 279.5,1145.3 282.7,1145.2" fill="#fff"/>
<polygon points="316.5,1146.7 317.6,1149.7 320.9,1149.8 318.3,1151.8 319.2,1155 316.5,1153.2 313.8,1155 314.7,1151.8 312.1,1149.8 315.4,1149.7" fill="#fff"/>
<polygon points="369.4,1141 370.5,1144.1 373.7,1144.2 371.2,1146.2 372.1,1149.3 369.4,1147.6 366.7,1149.3 367.5,1146.2 365,1144.2 368.2,1144.1" fill="#fff"/>
<polygon points="395.2,1139.9 396.4,1142.9 399.6,1143.1 397.1,1145.1 398,1148.2 395.2,1146.4 392.5,1148.2 393.4,1145.1 390.9,1143.1 394.1,1142.9" fill="#fff"/>
<polygon points="474,1143.3 475.1,1146.3 478.4,1146.5 475.8,1148.5 476.7,1151.6 474,1149.8 471.3,1151.6 472.2,1148.5 469.6,1146.5 472.9,1146.3" fill="#fff"/>
<polygon points="291.8,1153.4 292.9,1156.4 296.1,1156.6 293.6,1158.6 294.5,1161.7 291.8,1159.9 289,1161.7 289.9,1158.6 287.4,1156.6 290.6,1156.4" fill="#fff"/>
<polygon points="375,1163.5 376.1,1166.6 379.4,1166.7 376.8,1168.7 377.7,1171.8 375,1170.1 372.3,1171.8 373.2,1168.7 370.6,1166.7 373.9,1166.6" fill="#fff"/>
<polygon points="442.5,1162.4 443.6,1165.4 446.9,1165.6 444.3,1167.6 445.2,1170.7 442.5,1168.9 439.8,1170.7 440.7,1167.6 438.1,1165.6 441.4,1165.4" fill="#fff"/>
<polygon points="235.5,1169.2 236.6,1172.2 239.9,1172.3 237.3,1174.3 238.2,1177.5 235.5,1175.7 232.8,1177.5 233.7,1174.3 231.1,1172.3 234.4,1172.2" fill="#fff"/>
<polygon points="223.1,1179.3 224.3,1182.3 227.5,1182.5 225,1184.5 225.8,1187.6 223.1,1185.8 220.4,1187.6 221.3,1184.5 218.8,1182.5 222,1182.3" fill="#fff"/>
<polygon points="277.1,1190.5 278.3,1193.6 281.5,1193.7 279,1195.7 279.8,1198.8 277.1,1197.1 274.4,1198.8 275.3,1195.7 272.8,1193.7 276,1193.6" fill="#fff"/>
<polygon points="265.9,1209.7 267,1212.7 270.2,1212.8 267.7,1214.8 268.6,1218 265.9,1216.2 263.2,1218 264,1214.8 261.5,1212.8 264.7,1212.7" fill="#fff"/>
<circle cx="369.4" cy="1080.4" r="1.5" fill="#fff"/>
<circle cx="348" cy="1092.8" r="1.5" fill="#fff"/>
<circle cx="422.2" cy="1087.1" r="1.5" fill="#fff"/>
<circle cx="460.5" cy="1096.1" r="1.5" fill="#fff"/>
<circle cx="398.6" cy="1105.1" r="1.5" fill="#fff"/>
<circle cx="408.8" cy="1105.1" r="1.5" fill="#fff"/>
<circle cx="353.6" cy="1110.8" r="1.5" fill="#fff"/>
<circle cx="424.5" cy="1114.1" r="1.5" fill="#fff"/>
<circle cx="274.9" cy="1119.8" r="1.5" fill="#fff"/>
<circle cx="360.4" cy="1127.6" r="1.5" fill="#fff"/>
<circle cx="485.2" cy="1121.5" r="1.5" fill="#fff"/>
<circle cx="388.5" cy="1146.8" r="1.5" fill="#fff"/>
<circle cx="442.5" cy="1144.5" r="1.5" fill="#fff"/>
<circle cx="418.9" cy="1155.8" r="1.5" fill="#fff"/>
<circle cx="390.8" cy="1164.8" r="1.5" fill="#fff"/>
<circle cx="317.6" cy="1168.1" r="1.5" fill="#fff"/>
<circle cx="325.5" cy="1179.4" r="1.5" fill="#fff"/>
<circle cx="352.5" cy="1177.1" r="1.5" fill="#fff"/>
<circle cx="485.2" cy="1171.5" r="1.5" fill="#fff"/>
<circle cx="223.1" cy="1161.4" r="1.5" fill="#fff"/>
<circle cx="255.8" cy="1191.8" r="1.5" fill="#fff"/>
<circle cx="259.1" cy="1195.1" r="1.5" fill="#fff"/>
<circle cx="298.5" cy="1208.6" r="1.5" fill="#fff"/>
<circle cx="242.2" cy="1223.2" r="1.5" fill="#fff"/>
<polygon points="179.2,1261.5 316.5,1221 548.2,1227.8 478.5,1248 377.2,1296.4 330,1281.8 285,1271.6 240,1266" fill="#e81e25"/>
<polygon points="179.2,1261.5 240,1266 285,1271.6 330,1281.8 377.2,1296.4 377.2,1332.4 180.4,1290.8" fill="#f9f9f9" stroke="#6d6e70" stroke-width="1.2"/>
<polygon points="377.2,1296.4 548.2,1230 548.2,1253.6 377.2,1332.4" fill="#f9f9f9" stroke="#6d6e70" stroke-width="1.2"/>
<polygon points="180.4,1289.6 377.2,1331.2 548.2,1252.5 548.2,1258.1 378.4,1338 180.4,1294.1" fill="#6d6e70"/>
<path d="M377.2 1296.4 Q373.9 1314.4 377.2 1332.4 Q380.6 1314.4 377.2 1296.4 Z" fill="#6d6e70"/>
<polygon points="314.2,1215.4 330,1205.2 341.2,1194 370.5,1182.8 386.2,1181.6 442.5,1191.8 453.8,1199.6 476.2,1197.4 532.5,1207.5 550.5,1216.5 541.5,1227.8 494.2,1248 480.8,1245.8 456,1234.5 408.8,1236.8 397.5,1232.2 363.8,1227.8 321,1218.8" fill="#fff" stroke="#fff" stroke-width="6" stroke-linejoin="round"/>
<path d="M315.4 1217.6 Q359.2 1223.2 402 1236.8" stroke="#6d6e70" stroke-width="1.5" fill="none"/>
<path d="M408.8 1233.4 Q453.8 1236.8 492 1248" stroke="#6d6e70" stroke-width="1.5" fill="none"/>
<path d="M420 1186.1 Q442.5 1189.5 456 1199.6" stroke="#6d6e70" stroke-width="1.5" fill="none"/>
<path d="M476.2 1198.5 Q521.2 1200.8 548.2 1215.4" stroke="#6d6e70" stroke-width="1.5" fill="none"/>
<path d="M406.5 1216.5 Q415.5 1198.5 440.2 1201.9 Q417.8 1205.2 406.5 1216.5 Z" fill="#6d6e70"/>
<path d="M496.5 1232.2 Q505.5 1212 528 1216.5 Q507.8 1219.9 496.5 1232.2 Z" fill="#6d6e70"/>
<polyline points="178.1,1306.5 379.5,1354.9 556.1,1268.2" stroke="#e81e25" stroke-width="4.5" fill="none" stroke-linejoin="miter"/>
<polyline points="201.8,1299.8 177,1305.4 187.1,1323.4" stroke="#e81e25" stroke-width="4.5" fill="none"/>
<polyline points="534.8,1268.2 557.2,1267.8 548.2,1290.8" stroke="#e81e25" stroke-width="4.5" fill="none"/>
<text x="593" y="1263" font-weight="bold" font-size="57" fill="#666" style="fill:#666" textLength="243" lengthAdjust="spacingAndGlyphs">130 x 220</text>
<g transform="translate(738 244) rotate(-1.5)"><text x="0" y="0" font-weight="bold" font-size="53" textLength="75" lengthAdjust="spacingAndGlyphs" stroke="#000" stroke-width="0.4">291</text><text x="82" y="0" font-size="53" textLength="80.2" lengthAdjust="spacingAndGlyphs" stroke="#fff" stroke-width="1.2">cm</text></g>
<g transform="translate(1477 244.5) rotate(4.5)"><text x="0" y="0" font-weight="bold" font-size="52" textLength="77" lengthAdjust="spacingAndGlyphs" stroke="#000" stroke-width="0.4">183</text><text x="78" y="0" font-size="52" textLength="80.2" lengthAdjust="spacingAndGlyphs" stroke="#fff" stroke-width="1.2">cm</text></g>
<g transform="translate(610 414) rotate(-2.5)"><text x="0" y="0" font-weight="bold" font-size="52" textLength="55" lengthAdjust="spacingAndGlyphs" stroke="#000" stroke-width="0.4">70</text><text x="56" y="0" font-size="52" textLength="80.2" lengthAdjust="spacingAndGlyphs" stroke="#fff" stroke-width="1.2">cm</text></g>
<g transform="translate(433.5 462) rotate(18)"><text x="0" y="0" font-weight="bold" font-size="52" textLength="48" lengthAdjust="spacingAndGlyphs" stroke="#000" stroke-width="0.4">14</text><text x="49" y="0" font-size="52" textLength="77" lengthAdjust="spacingAndGlyphs" stroke="#fff" stroke-width="1.2">cm</text></g>
<g transform="translate(997.5 355) rotate(83)"><text x="0" y="0" font-weight="bold" font-size="53" textLength="55" lengthAdjust="spacingAndGlyphs" stroke="#000" stroke-width="0.4">40</text><text x="56" y="0" font-size="53" textLength="80.2" lengthAdjust="spacingAndGlyphs" stroke="#fff" stroke-width="1.2">cm</text></g>
<g transform="translate(1032 519.5) rotate(23)"><text x="0" y="0" font-weight="bold" font-size="50" textLength="52" lengthAdjust="spacingAndGlyphs" stroke="#000" stroke-width="0.4">66</text><text x="55" y="0" font-size="53" textLength="79.2" lengthAdjust="spacingAndGlyphs" stroke="#fff" stroke-width="1.2">cm</text></g>
<g transform="translate(1411 536) rotate(13.5)"><text x="0" y="0" font-weight="bold" font-size="50" textLength="76" lengthAdjust="spacingAndGlyphs" stroke="#000" stroke-width="0.4">147</text><text x="76" y="0" font-size="50" textLength="77" lengthAdjust="spacingAndGlyphs" stroke="#fff" stroke-width="1.2">cm</text></g>
<g transform="translate(938 637) rotate(-12)"><text x="0" y="0" font-weight="bold" font-size="52" textLength="80" lengthAdjust="spacingAndGlyphs" stroke="#000" stroke-width="0.4">150</text><text x="81" y="0" font-size="52" textLength="80.2" lengthAdjust="spacingAndGlyphs" stroke="#fff" stroke-width="1.2">cm</text></g>
<g transform="translate(1685 607.5) rotate(-20)"><text x="0" y="0" font-weight="bold" font-size="51" textLength="55" lengthAdjust="spacingAndGlyphs" stroke="#000" stroke-width="0.4">90</text><text x="56" y="0" font-size="51" textLength="81.3" lengthAdjust="spacingAndGlyphs" stroke="#fff" stroke-width="1.2">cm</text></g>
<g transform="translate(361 622) rotate(17)"><text x="0" y="0" font-weight="bold" font-size="50" textLength="52" lengthAdjust="spacingAndGlyphs" stroke="#000" stroke-width="0.4">94</text><text x="53" y="0" font-size="50" textLength="77" lengthAdjust="spacingAndGlyphs" stroke="#fff" stroke-width="1.2">cm</text></g>
<g transform="translate(587 644) rotate(-6)"><text x="0" y="0" font-weight="bold" font-size="50" textLength="52" lengthAdjust="spacingAndGlyphs" stroke="#000" stroke-width="0.4">35</text><text x="53" y="0" font-size="50" textLength="81.3" lengthAdjust="spacingAndGlyphs" stroke="#fff" stroke-width="1.2">cm</text></g>
<g transform="translate(581 836) rotate(-95)"><text x="0" y="0" font-weight="bold" font-size="52" textLength="53" lengthAdjust="spacingAndGlyphs" stroke="#000" stroke-width="0.4">57</text><text x="54" y="0" font-size="52" textLength="81.3" lengthAdjust="spacingAndGlyphs" stroke="#fff" stroke-width="1.2">cm</text></g>
<g transform="translate(156.5 633) rotate(-90)"><text x="0" y="0" font-weight="bold" font-size="53" textLength="56" lengthAdjust="spacingAndGlyphs" stroke="#000" stroke-width="0.4">85</text><text x="57" y="0" font-size="53" textLength="80.2" lengthAdjust="spacingAndGlyphs" stroke="#fff" stroke-width="1.2">cm</text></g>
<g transform="translate(237.5 643) rotate(-90)"><text x="0" y="0" font-weight="bold" font-size="53" textLength="55" lengthAdjust="spacingAndGlyphs" stroke="#000" stroke-width="0.4">72</text><text x="56" y="0" font-size="53" textLength="79.2" lengthAdjust="spacingAndGlyphs" stroke="#fff" stroke-width="1.2">cm</text></g>
<g transform="translate(1044 786) rotate(-90)"><text x="0" y="0" font-weight="bold" font-size="52" textLength="53" lengthAdjust="spacingAndGlyphs" stroke="#000" stroke-width="0.4">45</text><text x="54" y="0" font-size="52" textLength="79.2" lengthAdjust="spacingAndGlyphs" stroke="#fff" stroke-width="1.2">cm</text></g>
<g transform="translate(1551 745) rotate(-90)"><text x="0" y="0" font-weight="bold" font-size="52" textLength="53" lengthAdjust="spacingAndGlyphs" stroke="#000" stroke-width="0.4">27</text><text x="54" y="0" font-size="52" textLength="81.3" lengthAdjust="spacingAndGlyphs" stroke="#fff" stroke-width="1.2">cm</text></g>
<g transform="translate(1647 806) rotate(90)"><text x="0" y="0" font-weight="bold" font-size="50" textLength="32" lengthAdjust="spacingAndGlyphs" stroke="#000" stroke-width="0.4">5</text><text x="33" y="0" font-size="50" textLength="74.9" lengthAdjust="spacingAndGlyphs" stroke="#fff" stroke-width="1.2">cm</text></g>
<g transform="translate(1211 1020) rotate(4)"><text x="0" y="0" font-weight="bold" font-size="45" textLength="53" lengthAdjust="spacingAndGlyphs" stroke="#000" stroke-width="0.4">35</text><text x="54" y="0" font-size="45" textLength="80.2" lengthAdjust="spacingAndGlyphs" stroke="#fff" stroke-width="1.2">cm</text></g>
<g transform="translate(1230 1139) rotate(12)"><text x="0" y="0" font-weight="bold" font-size="50" textLength="44" lengthAdjust="spacingAndGlyphs" stroke="#000" stroke-width="0.4">16</text><text x="46" y="0" font-size="50" textLength="78.1" lengthAdjust="spacingAndGlyphs" stroke="#fff" stroke-width="1.2">cm</text></g>
</svg></body></html>
